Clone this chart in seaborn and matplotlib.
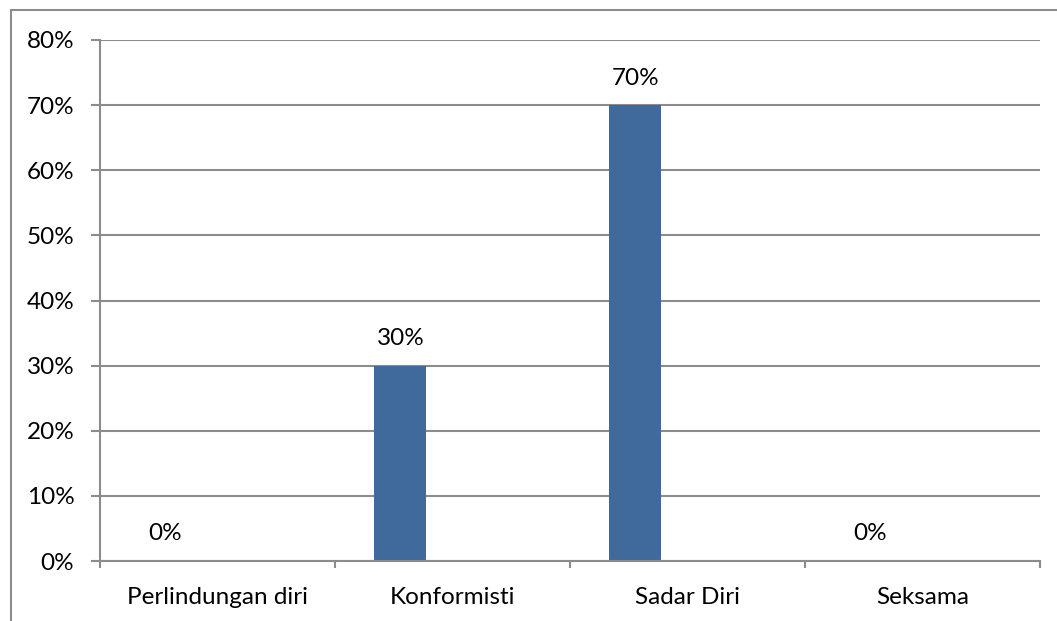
import numpy as np
import pandas as pd
import matplotlib
matplotlib.use("Agg")
import matplotlib.pyplot as plt
from matplotlib.lines import Line2D
from matplotlib.ticker import FixedLocator, PercentFormatter
import seaborn as sns

categories = ["Perlindungan diri", "Konformisti", "Sadar Diri", "Seksama"]
values = [0, 30, 70, 0]
y_ticks = [0, 10, 20, 30, 40, 50, 60, 70, 80]

sns.set_theme(style="white")
plt.rcParams["font.family"] = ["Lato", "DejaVu Sans"]

BAR_COLOR = "#406a9b"
LINE_COLOR = "#8c8c8c"
FS = 17.5
BAR_W = 0.2213  # one slot of a three-slot cluster with 150% gap

fig = plt.figure(figsize=(10.57, 6.21), dpi=100)
ax = fig.add_axes([100 / 1057, 1 - 561 / 621, 940 / 1057, 521 / 621])

idx = np.arange(len(categories))
df = pd.DataFrame({"pos": idx - BAR_W, "value": values})
sns.barplot(data=df, x="pos", y="value", native_scale=True, width=BAR_W,
            color=BAR_COLOR, saturation=1, edgecolor="none", ax=ax, zorder=3)

for p, v in zip(df["pos"], df["value"]):
    ax.annotate(f"{v:g}%", (p, v), xytext=(0, 19.5), textcoords="offset points",
                ha="center", va="center", fontsize=FS, color="#000000")

ax.set_xlim(-0.5, len(categories) - 0.5)
ax.set_ylim(0, 80)
ax.set_xlabel("")
ax.set_ylabel("")

ax.yaxis.set_major_locator(FixedLocator(y_ticks))
ax.yaxis.set_major_formatter(PercentFormatter(decimals=0))
ax.grid(axis="y", color=LINE_COLOR, linewidth=1.5, zorder=0)
ax.grid(axis="x", visible=False)

ax.set_xticks(np.arange(len(categories) + 1) - 0.5)
ax.set_xticklabels([])
ax.set_xticks(idx, minor=True)
ax.set_xticklabels(categories, minor=True)
ax.tick_params(axis="x", which="major", length=5, width=1.5, color=LINE_COLOR,
               direction="out", bottom=True)
ax.tick_params(axis="x", which="minor", length=0, pad=19, labelsize=FS,
               labelcolor="#000000")
ax.tick_params(axis="y", length=6.5, width=1.5, color=LINE_COLOR, direction="out",
               left=True, pad=12, labelsize=FS, labelcolor="#000000")

for side in ("top", "right"):
    ax.spines[side].set_visible(False)
for side in ("left", "bottom"):
    ax.spines[side].set_color(LINE_COLOR)
    ax.spines[side].set_linewidth(1.5)
    ax.spines[side].set_zorder(4)

# outer chart frame
fig.add_artist(Line2D([11 / 1057, 1.0], [1 - 10 / 621, 1 - 10 / 621],
                      transform=fig.transFigure, color=LINE_COLOR, linewidth=1.5))
fig.add_artist(Line2D([11 / 1057, 11 / 1057], [0.0, 1 - 10 / 621],
                      transform=fig.transFigure, color=LINE_COLOR, linewidth=1.5))

fig.savefig("out.png", dpi=100, facecolor="white")
